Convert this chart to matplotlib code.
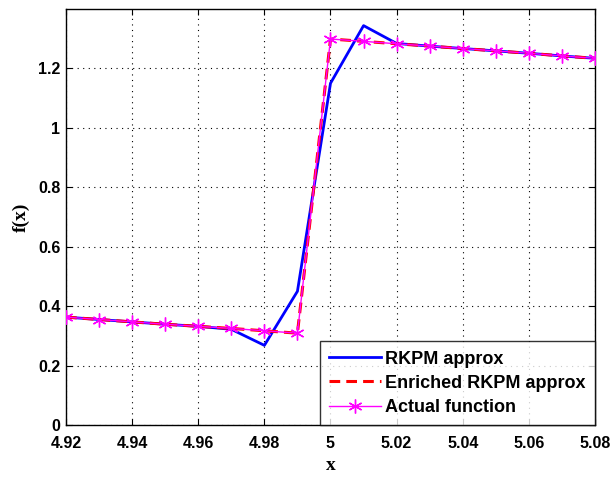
import matplotlib
matplotlib.use("Agg")
import matplotlib.pyplot as plt

# Sample points and function values
x = [4.92, 4.93, 4.94, 4.95, 4.96, 4.97, 4.98, 4.99,
     5.00, 5.01, 5.02, 5.03, 5.04, 5.05, 5.06, 5.07, 5.08]
actual = [0.363, 0.355, 0.347, 0.339, 0.332, 0.325, 0.317, 0.309,
          1.299, 1.291, 1.283, 1.275, 1.267, 1.259, 1.251, 1.242, 1.234]
rkpm = [0.363, 0.355, 0.347, 0.339, 0.332, 0.322, 0.268, 0.450,
        1.150, 1.344, 1.284, 1.275, 1.267, 1.259, 1.251, 1.242, 1.234]
enriched = [0.363, 0.355, 0.347, 0.339, 0.332, 0.325, 0.317, 0.309,
            1.299, 1.291, 1.283, 1.275, 1.267, 1.259, 1.251, 1.242, 1.234]

xticks = [4.92, 4.94, 4.96, 4.98, 5.00, 5.02, 5.04, 5.06, 5.08]
xticklabels = ["4.92", "4.94", "4.96", "4.98", "5", "5.02", "5.04", "5.06", "5.08"]
yticks = [0, 0.2, 0.4, 0.6, 0.8, 1.0, 1.2]
yticklabels = ["0", "0.2", "0.4", "0.6", "0.8", "1", "1.2"]

plt.rcParams["font.family"] = ["Liberation Sans", "DejaVu Sans"]

fig = plt.figure(figsize=(6.13, 4.78), dpi=100)
ax = fig.add_axes([0.1077, 0.1109, 0.8629, 0.8703])

ax.plot(x, rkpm, color="#0000ff", lw=2.0, label="RKPM approx", zorder=3)
ax.plot(x, enriched, color="#ff0000", lw=2.2, ls=(0, (3.5, 2)),
        label="Enriched RKPM approx", zorder=4)
ax.plot(x, actual, color="#ff00ff", lw=1.0, marker=(6, 2, 0), ms=10, mew=1.0,
        label="Actual function", zorder=5)

ax.set_xlim(4.92, 5.08)
ax.set_ylim(0, 1.4)
ax.set_xticks(xticks)
ax.set_xticklabels(xticklabels)
ax.set_yticks(yticks)
ax.set_yticklabels(yticklabels)

ax.grid(True, color="black", ls=(0, (1, 4)), lw=0.8)
ax.tick_params(direction="in", length=4, width=0.8, top=True, right=True,
               labelsize=11.5)
ax.tick_params(axis="x", pad=8)
ax.tick_params(axis="y", pad=4)
for lab in ax.get_xticklabels() + ax.get_yticklabels():
    lab.set_fontweight("bold")
for sp in ax.spines.values():
    sp.set_linewidth(1.0)

ax.set_xlabel("x", family="Liberation Serif", fontweight="bold", fontsize=14, labelpad=4)
ax.set_ylabel("f(x)", family="Liberation Serif", fontweight="bold", fontsize=14, labelpad=6)

leg = ax.legend(loc="lower right", prop={"weight": "bold", "size": 13},
                frameon=True, fancybox=False, edgecolor="black",
                borderaxespad=0.0, handlelength=2.9, handletextpad=0.25,
                borderpad=0.5, labelspacing=0.4)
leg.get_frame().set_linewidth(1.0)

fig.savefig("out.png", dpi=100)
